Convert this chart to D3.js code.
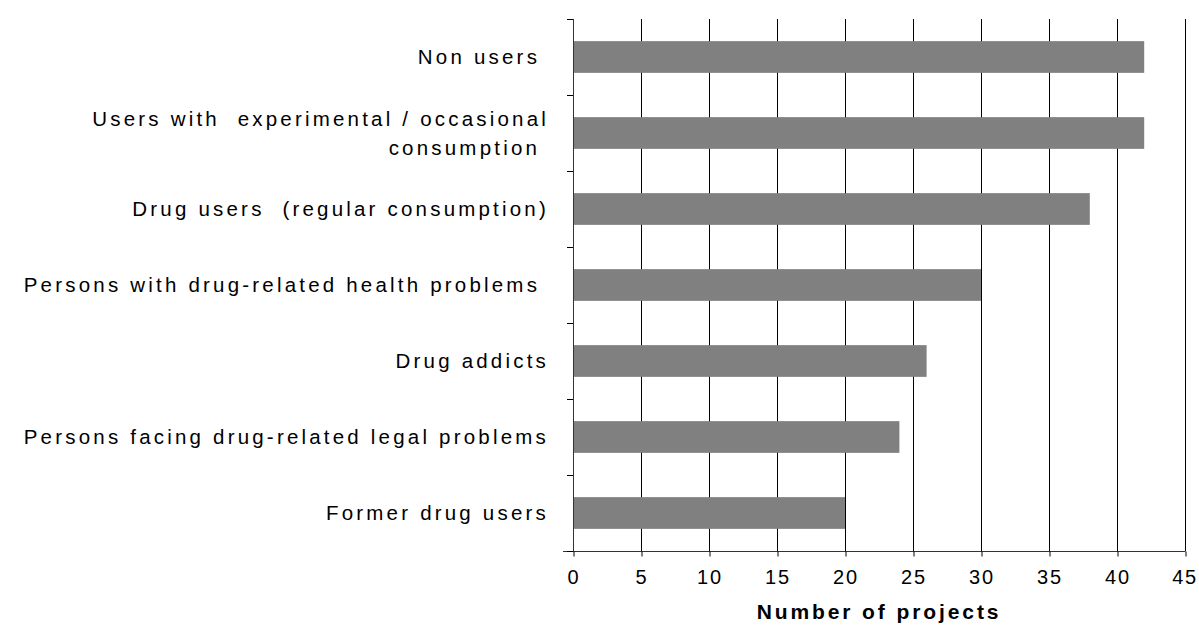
<!DOCTYPE html>
<html>
<head>
<meta charset="utf-8">
<script src="https://cdn.jsdelivr.net/npm/d3@7"></script>
<style>
  html, body { margin: 0; padding: 0; background: #fff; }
  svg { display: block; }
  text { font-family: "Liberation Sans", Arial, sans-serif; fill: #000; white-space: pre; }
</style>
</head>
<body>
<svg id="chart" width="1199" height="630"></svg>
<script>
// Target groups of the projects, top to bottom
const categories = [
  ["Non users "],
  ["Users with  experimental / occasional", "consumption "],
  ["Drug users  (regular consumption)"],
  ["Persons with drug-related health problems "],
  ["Drug addicts"],
  ["Persons facing drug-related legal problems"],
  ["Former drug users"]
];
const projects = [42, 42, 38, 30, 26, 24, 20];
const xTicks = [0, 5, 10, 15, 20, 25, 30, 35, 40, 45];
const xTitle = "Number of projects";

const svg = d3.select("#chart");
const plotLeft = 573, plotRight = 1185, plotTop = 19, plotBottom = 551;
const barH = 31.7;
const fontSize = 20.5, spacing = "3.2px";

const x = d3.scaleLinear().domain([0, 45]).range([plotLeft, plotRight]);
const y = d3.scaleBand().domain(d3.range(categories.length)).range([plotTop, plotBottom]);
const band = y.bandwidth();

// vertical gridlines
svg.append("g").selectAll("line").data(xTicks.slice(1)).join("line")
  .attr("x1", d => Math.round(x(d)) + 0.5).attr("x2", d => Math.round(x(d)) + 0.5)
  .attr("y1", plotTop).attr("y2", plotBottom)
  .attr("stroke", "#000").attr("stroke-width", 1);

// bars
svg.append("g").selectAll("rect").data(projects).join("rect")
  .attr("x", x(0))
  .attr("y", (d, i) => y(i) + (band - barH) / 2)
  .attr("width", d => x(d) - x(0))
  .attr("height", barH)
  .attr("fill", "#808080");

// x axis
const xAxis = d3.axisBottom(x).tickValues(xTicks).tickSize(5).tickPadding(13).tickFormat(d3.format("d"));
const gx = svg.append("g").attr("transform", `translate(0.5,${plotBottom + 0.5})`).call(xAxis);
gx.select(".domain").attr("stroke", "#333").attr("d", `M${plotLeft - 10.5},0H${plotRight}`);
gx.selectAll(".tick line").attr("stroke", "#000");
gx.selectAll(".tick text")
  .attr("font-size", 20).attr("letter-spacing", "1.8px")
  .attr("font-family", "Liberation Sans, Arial, sans-serif").attr("fill", "#000");
// keep the last tick label inside the frame
gx.selectAll(".tick text").filter(d => d === 45).attr("text-anchor", "end").attr("x", 12);

// y axis: ticks at category boundaries
const bounds = d3.range(categories.length + 1).map(i => plotTop + i * band);
svg.append("line")
  .attr("x1", plotLeft + 0.5).attr("x2", plotLeft + 0.5).attr("y1", plotTop).attr("y2", plotBottom)
  .attr("stroke", "#333");
svg.append("g").selectAll("line").data(bounds).join("line")
  .attr("x1", plotLeft - 6).attr("x2", plotLeft)
  .attr("y1", d => Math.round(d) + 0.5).attr("y2", d => Math.round(d) + 0.5)
  .attr("stroke", "#000");

// category labels
const labels = svg.append("g").attr("font-size", fontSize).attr("letter-spacing", spacing).attr("text-anchor", "end");
categories.forEach((lines, i) => {
  const cy = y(i) + band / 2;
  const lh = 29;
  lines.forEach((t, j) => {
    labels.append("text")
      .attr("x", 549)
      .attr("y", cy + (j - (lines.length - 1) / 2) * lh)
      .attr("dy", "0.35em")
      .text(t);
  });
});

// axis title
svg.append("text")
  .attr("x", (plotLeft + plotRight) / 2).attr("y", 612).attr("dy", "0.35em")
  .attr("text-anchor", "middle").attr("font-size", 21).attr("font-weight", "bold")
  .attr("letter-spacing", "2.9px")
  .text(xTitle);
</script>
</body>
</html>
